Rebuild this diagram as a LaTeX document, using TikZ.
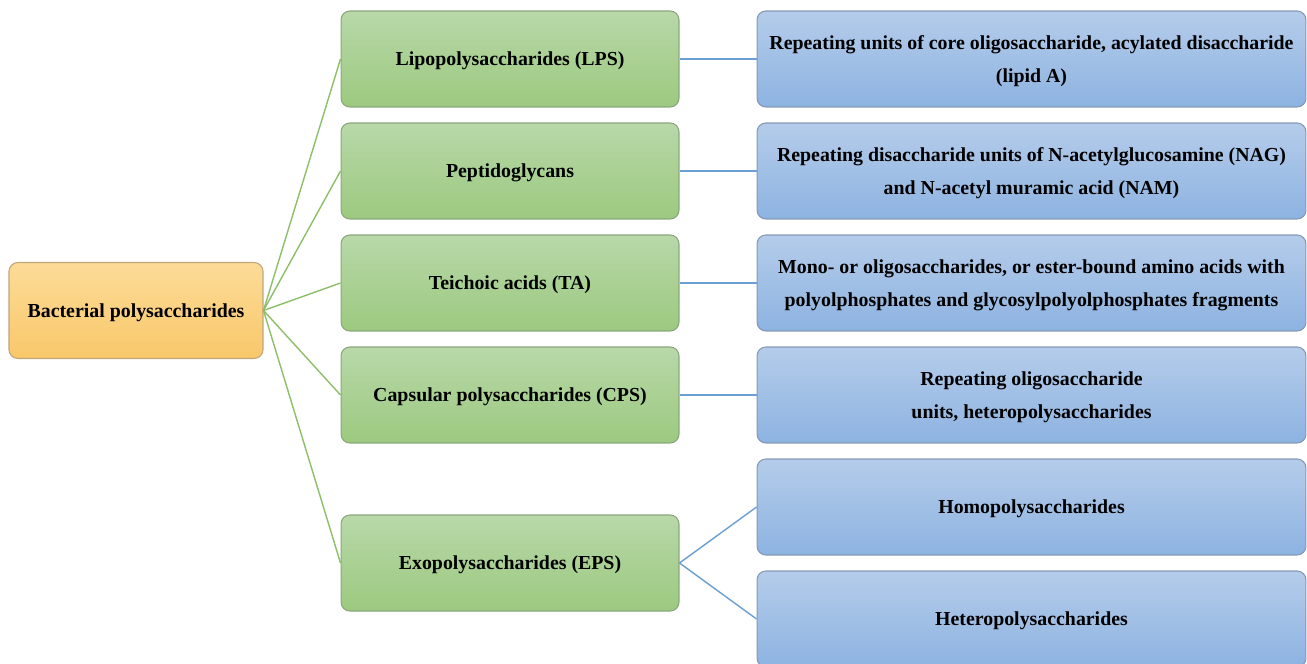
\documentclass[tikz,border=0pt]{standalone}
\usepackage{fontspec}
\setmainfont{Liberation Serif}
\usetikzlibrary{positioning}
\definecolor{roottop}{HTML}{FCDB98}
\definecolor{rootbot}{HTML}{F9C86A}
\definecolor{rootline}{HTML}{BFA57A}
\definecolor{classtop}{HTML}{B8D8A9}
\definecolor{classbot}{HTML}{9CC97F}
\definecolor{classline}{HTML}{8AA77C}
\definecolor{desctop}{HTML}{B5CCEA}
\definecolor{descbot}{HTML}{8DB3E1}
\definecolor{descline}{HTML}{8499B3}
\definecolor{branchcol}{HTML}{8CBF68}
\definecolor{leafcol}{HTML}{6A9FD4}
\tikzset{
    box/.style = {rounded corners=5pt,line width=0.6pt,align=center,
        minimum height=1.92cm,inner sep=2pt,text depth=0pt,
        font=\bfseries\fontsize{11.3}{18.7}\selectfont},
    rootbox/.style = {box,draw=rootline,top color=roottop,bottom color=rootbot,minimum width=5.08cm},
    classbox/.style = {box,draw=classline,top color=classtop,bottom color=classbot,minimum width=6.76cm},
    descbox/.style = {box,draw=descline,top color=desctop,bottom color=descbot,minimum width=10.98cm}
}
\tikzset{
    branch/.style = {draw=branchcol,line width=0.8pt},
    leaf/.style = {draw=leafcol,line width=0.8pt}
}

\begin{document}
\begin{tikzpicture}[x=0.02cm,y=-0.02cm]
        \newcommand*\vsep{112}
        \clip (0,0) rectangle (1307,663);
        % Root
        \node[rootbox] (root) at (136,310.5) {Bacterial polysaccharides};
        % Classes
        \path (510,59) node[classbox] (lps) {Lipopolysaccharides (LPS)}
            to +(0,\vsep) node[classbox] (pg) {Peptidoglycans}
            to +(0,2*\vsep) node[classbox] (ta) {Teichoic acids (TA)}
            to +(0,3*\vsep) node[classbox] (cps) {Capsular polysaccharides (CPS)}
            to +(0,4.5*\vsep) node[classbox] (eps) {Exopolysaccharides (EPS)}
        ;
        % Descriptions
        \path (1031.5,59) node[descbox] (lpsd) {Repeating units of core oligosaccharide, acylated disaccharide\\(lipid A)}
            to +(0,\vsep) node[descbox] (pgd) {Repeating disaccharide units of N-acetylglucosamine (NAG)\\and N-acetyl muramic acid (NAM)}
            to +(0,2*\vsep) node[descbox] (tad) {Mono- or oligosaccharides, or ester-bound amino acids with\\polyolphosphates and glycosylpolyolphosphates fragments}
            to +(0,3*\vsep) node[descbox] (cpsd) {Repeating oligosaccharide\\units, heteropolysaccharides}
            to +(0,4*\vsep) node[descbox] (homo) {Homopolysaccharides}
            to +(0,5*\vsep) node[descbox] (hetero) {Heteropolysaccharides}
        ;
        % Branches
        \foreach \dest in {lps,pg,ta,cps,eps}
            \draw[branch] (root.east) to (\dest.west);
        \foreach \src/\dest in {lps/lpsd,pg/pgd,ta/tad,cps/cpsd,eps/homo,eps/hetero}
            \draw[leaf] (\src.east) to (\dest.west);
    \end{tikzpicture}
\end{document}
